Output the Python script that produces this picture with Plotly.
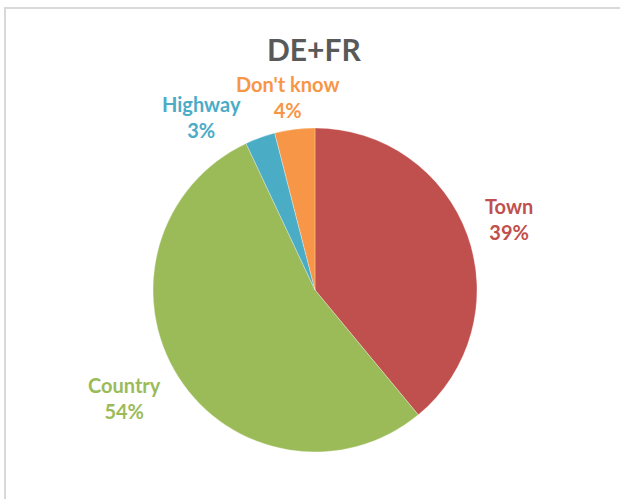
import plotly.graph_objects as go

labels = ["Town", "Country", "Highway", "Don't know"]
values = [39, 54, 3, 4]
colors = ["#C0504D", "#9BBB59", "#4BACC6", "#F79646"]
title = "DE+FR"

W, H = 620, 499
# label block centre positions in pixels (x, y from top)
label_pos = [(509, 219), (125, 398), (201, 117), (287, 97)]

fig = go.Figure()
fig.add_trace(go.Pie(
    labels=labels, values=values, sort=False, direction="clockwise", rotation=0,
    marker=dict(colors=colors, line=dict(color="white", width=0.3)),
    textinfo="none", hoverinfo="label+percent", showlegend=False,
    domain=dict(x=[153 / W, 477 / W], y=[1 - 453 / H, 1 - 127 / H]),
))

tot = sum(values)
for lab, val, col, (px, py) in zip(labels, values, colors, label_pos):
    fig.add_annotation(
        x=px / W, y=1 - py / H, xref="paper", yref="paper",
        text=f"<b>{lab}<br>{round(100 * val / tot)}%</b>",
        showarrow=False, font=dict(family="Lato, Open Sans, sans-serif", size=20, color=col),
        align="center", xanchor="center", yanchor="middle",
    )

fig.add_annotation(
    x=314 / W, y=1 - 49 / H, xref="paper", yref="paper",
    text=f"<b>{title}</b>", showarrow=False,
    font=dict(family="Lato, Open Sans, sans-serif", size=30, color="#595959"),
    xanchor="center", yanchor="middle",
)

fig.add_shape(type="rect", xref="paper", yref="paper",
              x0=5 / W, x1=1.05, y0=-0.05, y1=1 - 8 / H,
              line=dict(color="#D9D9D9", width=2), fillcolor="rgba(0,0,0,0)")

fig.update_layout(
    width=W, height=H, margin=dict(l=0, r=0, t=0, b=0),
    paper_bgcolor="white", plot_bgcolor="white",
)

fig.write_html("out.html", config={"displayModeBar": False},
               post_script="document.body.style.margin='0';document.body.style.overflow='hidden';")
